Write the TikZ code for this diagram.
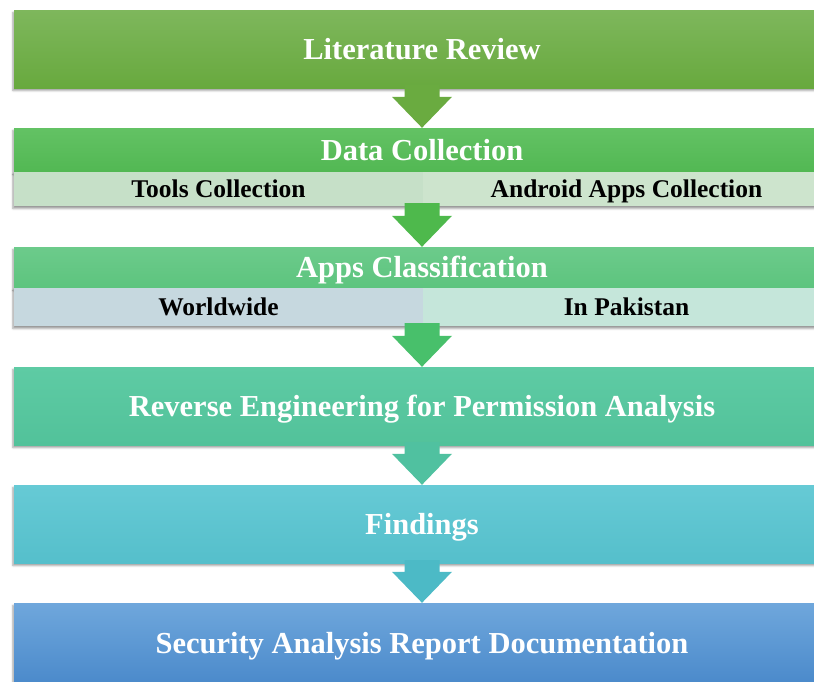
\documentclass[tikz,border=0pt]{standalone}
\usepackage{fontspec}
\setmainfont{Liberation Serif}
\usetikzlibrary{calc,shadows.blur}

% stage colours (top / bottom of each gradient)
\definecolor{litTop}{HTML}{7EB75C}
\definecolor{litBot}{HTML}{68A93E}
\definecolor{litArrow}{HTML}{6AAB40}
\definecolor{dataTop}{HTML}{63C264}
\definecolor{dataBot}{HTML}{52B853}
\definecolor{dataArrow}{HTML}{4EB94C}
\definecolor{toolsFill}{HTML}{C6E0C8}
\definecolor{androidFill}{HTML}{CDE4CD}
\definecolor{appsTop}{HTML}{6CCB8B}
\definecolor{appsBot}{HTML}{5DC47E}
\definecolor{appsArrow}{HTML}{48C06B}
\definecolor{worldFill}{HTML}{C6D8DF}
\definecolor{pakFill}{HTML}{C5E6DA}
\definecolor{revTop}{HTML}{5ECBA4}
\definecolor{revBot}{HTML}{52C29A}
\definecolor{revArrow}{HTML}{50C1A0}
\definecolor{findTop}{HTML}{66CAD5}
\definecolor{findBot}{HTML}{55BFCB}
\definecolor{findArrow}{HTML}{4CBAC6}
\definecolor{secTop}{HTML}{6FA7DC}
\definecolor{secBot}{HTML}{4B8ACB}

% block arrow from one stage to the next: start, end, colour
\newcommand\stagearrow[3]{%
  \fill[#3] let \p1=(#1), \p2=(#2) in
    (\x2-17.5pt,\y1+3pt) -- (\x2+17.5pt,\y1+3pt) -- (\x2+17.5pt,\y2+31pt)
    -- (\x2+30pt,\y2+31pt) -- (\x2,\y2) -- (\x2-30pt,\y2+31pt)
    -- (\x2-17.5pt,\y2+31pt) -- cycle;}

\begin{document}
\begin{tikzpicture}[x=1pt,y=-1pt,
  boxshadow/.style={blur shadow={shadow xshift=-1pt, shadow yshift=-2.5pt,
      shadow blur radius=2pt, shadow opacity=40}},
  stage/.style={boxshadow, draw=none, inner sep=0pt, minimum width=816pt,
      text height=20.5pt, text depth=0pt,
      font=\fontsize{30.5}{36}\selectfont\bfseries, text=white},
  partrow/.style={boxshadow, draw=none, inner sep=0pt, minimum width=816pt},
  part/.style={draw=none, inner sep=0pt, minimum width=408pt,
      text height=17pt, text depth=0pt,
      font=\fontsize{25.5}{30}\selectfont\bfseries, text=black}]
\useasboundingbox (0,0) rectangle (814,681);
\clip (0,0) rectangle (814,681);

% Literature review
\node[stage, minimum height=78pt, top color=litTop, bottom color=litBot]
  (lit) at (422,49) {Literature Review};

% Data collection with its two parts
\node[stage, minimum height=44pt, top color=dataTop, bottom color=dataBot]
  (data) at (422,150) {Data Collection};
\node[partrow, minimum height=34pt, fill=toolsFill] (dataparts) at (422,189) {};
\node[part, minimum height=34pt, fill=toolsFill] (tools) at (218.5,189) {Tools Collection};
\node[part, minimum height=34pt, fill=androidFill] (android) at (626.5,189) {Android Apps Collection};

% Apps classification with its two parts
\node[stage, minimum height=41pt, top color=appsTop, bottom color=appsBot]
  (apps) at (422,267.5) {Apps Classification};
\node[partrow, minimum height=38pt, fill=worldFill] (appsparts) at (422,307) {};
\node[part, minimum height=38pt, fill=worldFill] (world) at (218.5,307) {Worldwide};
\node[part, minimum height=38pt, fill=pakFill] (pak) at (626.5,307) {In Pakistan};

% Reverse engineering
\node[stage, minimum height=78pt, top color=revTop, bottom color=revBot]
  (rev) at (422,406) {Reverse Engineering for Permission Analysis};

% Findings
\node[stage, minimum height=78pt, top color=findTop, bottom color=findBot]
  (find) at (422,524) {Findings};

% Security analysis report
\node[stage, minimum height=80pt, top color=secTop, bottom color=secBot]
  (sec) at (422,643) {Security Analysis Report Documentation};

% arrows between the stages
\stagearrow{lit.south}{data.north}{litArrow}
\stagearrow{dataparts.south}{apps.north}{dataArrow}
\stagearrow{appsparts.south}{rev.north}{appsArrow}
\stagearrow{rev.south}{find.north}{revArrow}
\stagearrow{find.south}{sec.north}{findArrow}
\end{tikzpicture}
\end{document}
